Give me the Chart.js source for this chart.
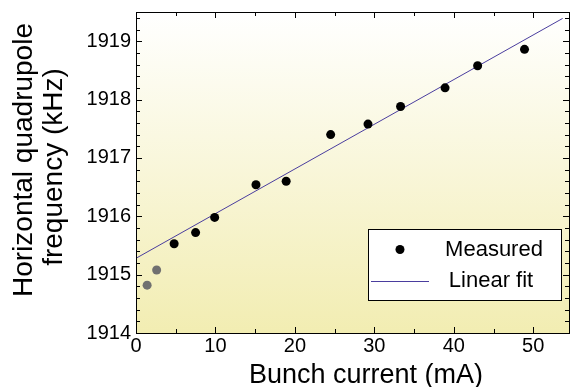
<!DOCTYPE html>
<html>
<head>
<meta charset="utf-8">
<script src="https://cdn.jsdelivr.net/npm/chart.js@4.4.0/dist/chart.umd.min.js"></script>
<style>
  html, body { margin: 0; padding: 0; background: #ffffff; }
  #wrap { width: 570px; height: 387px; position: relative; }
</style>
</head>
<body>
<div id="wrap"><canvas id="freqChart"></canvas></div>
<script>
// bunch current (mA) vs horizontal quadrupole frequency (kHz)
const measuredCurrent = [4.8, 7.5, 9.9, 15.1, 18.9, 24.5, 29.2, 33.3, 38.9, 43.0, 48.9];
const measuredFreq = [1915.53, 1915.72, 1915.98, 1916.54, 1916.60, 1917.40, 1917.58, 1917.88, 1918.20, 1918.58, 1918.86];

// the two lowest currents are plotted in grey
const lowCurrent = [1.4, 2.6];
const lowFreq = [1914.82, 1915.08];

// end points of the fitted line
const fitCurrent = [0, 53.7];
const fitFreq = [1915.28, 1919.39];

const xTicks = [0, 10, 20, 30, 40, 50];
const yTicks = [1914, 1915, 1916, 1917, 1918, 1919];

const FONT = "'Liberation Sans', Arial, Helvetica, sans-serif";

function toPoints(xs, ys) {
    return xs.map((x, i) => ({ x: x, y: ys[i] }));
}

// no extra room for the end labels, the frame is placed by layout padding
function noScalePadding(scale) {
    scale.paddingTop = 0;
    scale.paddingBottom = 0;
    scale.paddingLeft = 0;
    scale.paddingRight = 0;
}

// minor ticks point into the plot on all four sides
function drawInwardTicks(ctx, scale, area, step, majorEvery, horizontal) {
    const count = Math.floor((scale.max - scale.min) / step + 1e-6);
    ctx.beginPath();
    for (let i = 0; i <= count; i++) {
        const v = scale.min + i * step;
        const p = Math.round(scale.getPixelForValue(v)) + 0.5;
        const len = (i % majorEvery === 0) ? 6 : 4;
        if (horizontal) {
            ctx.moveTo(p, area.bottom);
            ctx.lineTo(p, area.bottom - len);
            ctx.moveTo(p, area.top);
            ctx.lineTo(p, area.top + len);
        } else {
            ctx.moveTo(area.left, p);
            ctx.lineTo(area.left + len, p);
            ctx.moveTo(area.right, p);
            ctx.lineTo(area.right - len, p);
        }
    }
    ctx.stroke();
}

const plotFrame = {
    id: "plotFrame",
    beforeDraw(chart) {
        const { ctx, chartArea: a } = chart;
        const g = ctx.createLinearGradient(0, a.top, 0, a.bottom);
        g.addColorStop(0, "#ffffff");
        g.addColorStop(1, "#f2edb2");
        ctx.save();
        ctx.fillStyle = g;
        ctx.fillRect(a.left, a.top, a.right - a.left, a.bottom - a.top);
        ctx.restore();
    },
    afterDraw(chart) {
        const { ctx, chartArea: a } = chart;
        const xs = chart.scales.x;
        const ys = chart.scales.y;

        ctx.save();
        ctx.strokeStyle = "#000000";
        ctx.lineWidth = 1;
        ctx.strokeRect(a.left + 0.5, a.top + 0.5, a.right - a.left, a.bottom - a.top);
        drawInwardTicks(ctx, xs, a, 5, 2, true);
        drawInwardTicks(ctx, ys, a, 0.2, 5, false);

        // axis titles
        ctx.fillStyle = "#000000";
        ctx.font = "27px " + FONT;
        ctx.textAlign = "center";
        ctx.textBaseline = "alphabetic";
        ctx.fillText(xs.options.title.text, 366, 383);

        ctx.save();
        ctx.rotate(-Math.PI / 2);
        ctx.font = "28px " + FONT;
        ctx.fillText(ys.options.title.text[0], -160, 32);
        ctx.fillText(ys.options.title.text[1], -167, 62);
        ctx.restore();

        // legend box
        const box = { x: 368, y: 229, w: 193, h: 71 };
        ctx.fillStyle = "#ffffff";
        ctx.fillRect(box.x, box.y, box.w, box.h);
        ctx.strokeRect(box.x + 0.5, box.y + 0.5, box.w, box.h);

        const sets = chart.data.datasets;
        ctx.fillStyle = sets[0].backgroundColor;
        ctx.beginPath();
        ctx.arc(400, 249.5, 4.5, 0, Math.PI * 2);
        ctx.fill();

        ctx.strokeStyle = sets[2].borderColor;
        ctx.beginPath();
        ctx.moveTo(371, 281.5);
        ctx.lineTo(429, 281.5);
        ctx.stroke();

        ctx.fillStyle = "#000000";
        ctx.font = "22px " + FONT;
        ctx.textAlign = "center";
        ctx.textBaseline = "middle";
        ctx.fillText(sets[0].label, 494, 250);
        ctx.fillText(sets[2].label, 491, 281);
        ctx.restore();
    }
};

new Chart(document.getElementById("freqChart"), {
    type: "scatter",
    data: {
        datasets: [
            {
                label: "Measured",
                data: toPoints(measuredCurrent, measuredFreq),
                backgroundColor: "#000000",
                borderWidth: 0,
                pointRadius: 4.5,
                pointHoverRadius: 4.5
            },
            {
                label: "Low current",
                data: toPoints(lowCurrent, lowFreq),
                backgroundColor: "#707070",
                borderWidth: 0,
                pointRadius: 4.5,
                pointHoverRadius: 4.5
            },
            {
                type: "line",
                label: "Linear fit",
                data: toPoints(fitCurrent, fitFreq),
                borderColor: "#4a3d9e",
                borderWidth: 1,
                pointRadius: 0,
                fill: false
            }
        ]
    },
    plugins: [plotFrame],
    options: {
        responsive: true,
        maintainAspectRatio: false,
        animation: false,
        layout: {
            autoPadding: false,
            padding: { top: 12, right: 1, left: 0, bottom: 0 }
        },
        plugins: {
            legend: { display: false },
            tooltip: { enabled: false }
        },
        scales: {
            x: {
                type: "linear",
                min: 0,
                max: 54.5,
                grid: { display: false, drawTicks: false },
                border: { display: false },
                title: { display: false, text: "Bunch current (mA)" },
                afterBuildTicks(scale) {
                    scale.ticks = xTicks.map(v => ({ value: v }));
                },
                afterFit(scale) {
                    scale.height = 54;
                    noScalePadding(scale);
                },
                ticks: {
                    padding: 1,
                    maxRotation: 0,
                    autoSkip: false,
                    color: "#000000",
                    font: { family: FONT, size: 20 },
                    callback: v => String(v)
                }
            },
            y: {
                type: "linear",
                min: 1914,
                max: 1919.5,
                grid: { display: false, drawTicks: false },
                border: { display: false },
                title: { display: false, text: ["Horizontal quadrupole", "frequency (kHz)"] },
                afterBuildTicks(scale) {
                    scale.ticks = yTicks.map(v => ({ value: v }));
                },
                afterFit(scale) {
                    scale.width = 136;
                    noScalePadding(scale);
                },
                ticks: {
                    padding: 5,
                    autoSkip: false,
                    color: "#000000",
                    font: { family: FONT, size: 20 },
                    callback: v => String(v)
                }
            }
        }
    }
});
</script>
</body>
</html>
